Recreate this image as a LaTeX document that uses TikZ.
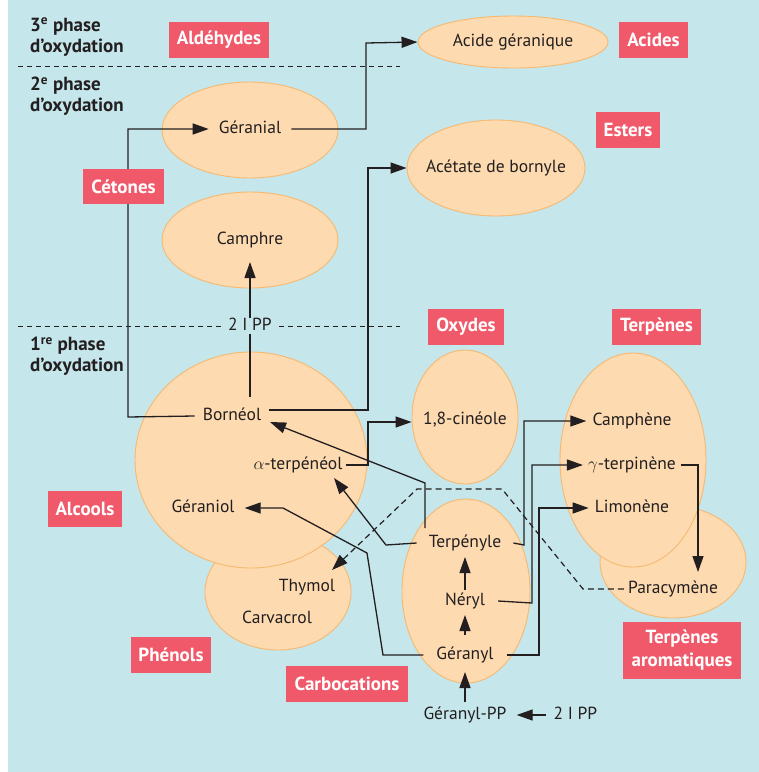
\documentclass[tikz,border=0pt]{standalone}
\usepackage{fontspec}
\setmainfont{PT Sans}
\usetikzlibrary{arrows.meta,shapes.geometric}
\definecolor{bg}{RGB}{197,230,235}
\definecolor{peach}{RGB}{253,218,176}
\definecolor{peachline}{RGB}{247,184,112}
\definecolor{lab}{RGB}{240,89,106}
\definecolor{ink}{RGB}{35,31,32}
\begin{document}
\begin{tikzpicture}[x=1pt,y=-1pt,
  ell/.style={ellipse,draw=peachline,fill=peach,line width=0.9pt,inner sep=0pt},
  txt/.style={text=ink,font=\fontsize{17.5}{21}\selectfont,inner xsep=6pt,inner ysep=3pt,text height=12pt,text depth=4pt},
  tag/.style={fill=lab,text=white,font=\bfseries\fontsize{19}{23}\selectfont,inner sep=0pt,minimum height=36pt,align=center},
  phase/.style={text=ink,font=\bfseries\fontsize{19}{21}\selectfont,align=left,inner sep=0pt,anchor=west},
  arr/.style={draw=ink,line width=1.3pt,-{Triangle[length=16pt,width=11pt]}},
  dsh/.style={draw=ink,line width=1pt,dash pattern=on 5pt off 4pt},
  dsharr/.style={draw=ink,line width=1.2pt,dash pattern=on 6pt off 4pt,-{Triangle[length=16pt,width=11pt]}},
]
\useasboundingbox (0,0) rectangle (759,772);
\fill[bg] (8,0) rectangle (759,772);

% phase separators
\draw[dsh] (18,66) -- (400,66);
\draw[dsh] (18,326) -- (400,326);

% phase texts
\node[phase] (ph3) at (30,37) {3\textsuperscript{e} phase\\d’oxydation};
\node[phase] (ph2) at (30,96) {2\textsuperscript{e} phase\\d’oxydation};
\node[phase] (ph1) at (30,356) {1\textsuperscript{re} phase\\d’oxydation};

% ellipses
\node[ell,minimum width=190pt,minimum height=52pt] (acg) at (513,42) {};
\node[ell,minimum width=176pt,minimum height=96pt] (geral) at (250,130) {};
\node[ell,minimum width=176pt,minimum height=96pt] (camph) at (250,240) {};
\node[ell,minimum width=178pt,minimum height=96pt] (acet) at (496,168) {};
\node[ell,minimum width=146pt,minimum height=116pt] (phen) at (278,592) {};
\node[ell,minimum width=232pt,minimum height=216pt] (alc) at (251,460) {};
\node[ell,minimum width=106pt,minimum height=134pt] (cin) at (465,417) {};
\node[ell,minimum width=146pt,minimum height=112pt] (para) at (673,562) {};
\node[ell,minimum width=146pt,minimum height=214pt] (terp) at (633,460) {};
\node[ell,minimum width=128pt,minimum height=184pt] (carb) at (466,591) {};

% texts
\node[txt] (tacg) at (513,42) {Acide géranique};
\node[txt,inner xsep=10pt] (tgeral) at (250,129) {Géranial};
\node[txt] (tcamph) at (250,240) {Camphre};
\node[txt] (tacet) at (496,168) {Acétate de bornyle};
\node[txt,inner xsep=8pt] (tbor) at (232,416) {Bornéol};
\node[txt,inner xsep=3pt] (tater) at (298,465) {$\alpha$-terpénéol};
\node[txt,inner xsep=10pt] (tgeol) at (203,508) {Géraniol};
\node[txt] (tthy) at (307,587) {Thymol};
\node[txt] (tcarv) at (277,619) {Carvacrol};
\node[txt] (tcin) at (465,420) {1,8-cinéole};
\node[txt] (tcamphene) at (632,421) {Camphène};
\node[txt,inner xsep=5pt] (tgter) at (632,465) {$\gamma$-terpinène};
\node[txt] (tlim) at (632,508) {Limonène};
\node[txt,inner xsep=4pt] (tpara) at (673,589) {Paracymène};
\node[txt,inner xsep=12pt] (tterpy) at (465,543) {Terpényle};
\node[txt,inner xsep=13pt] (tner) at (465,601) {Néryl};
\node[txt,inner xsep=13pt] (tgyl) at (465,655) {Géranyl};
\node[txt,inner xsep=10pt] (tgpp) at (465,715) {Géranyl-PP};
\node[txt,inner xsep=8pt] (tipp) at (575.5,715) {2 I PP};

% connectors
\draw[arr] (tbor.west) -- (128,417) -- (128,129) -- (tgeral.west);
\draw[arr] (tgeral.east) -- (366,129) -- (366,43) -- (acg.west);
\draw[arr] ([shift={(0,-6)}]tbor.east) -- (368,410) -- (368,168) -- (acet.west);
\draw[arr,shorten <=19pt,shorten >=22pt] (tbor.center -| camph.center) -- (camph.center);
\node[txt,fill=bg,inner xsep=3pt,inner ysep=0pt] (tipp2) at (250,326) {2 I PP};
\draw[arr] (tater.east) -- (368,465) -- (368,422) -- ([shift={(0,5)}]cin.west);
\draw[arr] ([shift={(-40,-15)}]tterpy.center) -- (425,483) -- ([shift={(38,6)}]tbor.center);
\draw[arr] (tterpy.west) -- (386,545) -- ([shift={(36,13)}]tater.center);
\draw[arr] (tterpy.east) -- (524,545) -- (524,421) -- (tcamphene.west);
\draw[arr] (tner.east) -- (532,603) -- (532,465) -- (tgter.west);
\draw[arr] (tgyl.east) -- (539,655) -- (539,508) -- (tlim.west);
\draw[arr] (tgyl.west) -- (383,655) -- (367,553) -- (283,508) -- (tgeol.east);
\draw[arr] (tgter.east) -- (698,465) -- ([shift={(25,-17)}]tpara.center);
\draw[dsharr] (tpara.west) -- (583,589) -- (502,489) -- (417,489) -- ([shift={(25,-17)}]tthy.center);
\draw[arr,shorten <=20pt,shorten >=14pt] (tgyl.center) -- (tner.center);
\draw[arr,shorten <=11pt,shorten >=14pt] (tner.center) -- (tterpy.center);
\draw[arr,shorten <=13pt,shorten >=17pt] (tgpp.center) -- (tgyl.center);
\draw[arr] (tipp.west) -- (tgpp.east);

% category tags
\node[tag,minimum width=100pt] (aldehydes) at (219,40) {Aldéhydes};
\node[tag,minimum width=69pt] (acides) at (653.5,40) {Acides};
\node[tag,minimum width=81pt,minimum height=35pt] (cetones) at (123.5,186.5) {Cétones};
\node[tag,minimum width=64pt] (esters) at (628,130) {Esters};
\node[tag,minimum width=76pt] (oxydes) at (466,327) {Oxydes};
\node[tag,minimum width=89pt] (terpenes) at (656.5,327) {Terpènes};
\node[tag,minimum width=74pt] (alcools) at (85,509) {Alcools};
\node[tag,minimum width=80pt] (phenols) at (171,655) {Phénols};
\node[tag,minimum width=122pt] (carbocations) at (347,684) {Carbocations};
\node[tag,minimum width=118pt,minimum height=57pt,font=\bfseries\fontsize{19}{23}\selectfont] (terparom) at (682,650.5) {Terpènes\\aromatiques};
\end{tikzpicture}
\end{document}
